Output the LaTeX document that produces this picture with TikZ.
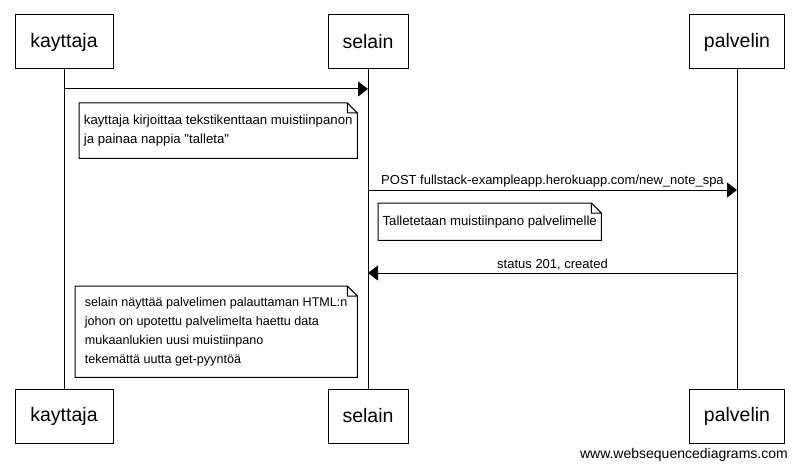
\documentclass[tikz,border=0pt]{standalone}
\usepackage{fontspec}
\setmainfont{Liberation Sans}
\usetikzlibrary{arrows.meta}

\tikzset{
  actor/.style={draw, line width=1pt, minimum width=#1, minimum height=54pt, font=\fontsize{19.5}{23}\selectfont},
  actor/.default=96pt,
  msg/.style={line width=1pt, -{Triangle[length=10pt,width=15pt]}},
  lbl/.style={font=\fontsize{13}{15}\selectfont, inner sep=2pt},
  note/.style={anchor=north west, align=left, inner sep=0pt, font=\fontsize{13.2}{19.5}\selectfont,
    append after command={\pgfextra{
      \draw [line width=1pt]
      (\tikzlastnode.north west) -- ([xshift=-10pt]\tikzlastnode.north east)
      -- ([yshift=-10pt]\tikzlastnode.north east)
      -- (\tikzlastnode.south east) -- (\tikzlastnode.south west) -- cycle
      ([xshift=-10pt]\tikzlastnode.north east) -- ([xshift=-10pt,yshift=-10pt]\tikzlastnode.north east)
      -- ([yshift=-10pt]\tikzlastnode.north east);
    }}}
}

\begin{document}
\begin{tikzpicture}[x=1pt, y=-1pt]
  \useasboundingbox (0,0) rectangle (798,468);

  % participants
  \draw (64, 42) node [actor=98pt] (k1) {kayttaja};
  \draw (368, 42) node [actor=80pt] (s1) {selain};
  \draw (737, 42) node [actor=95pt] (p1) {palvelin};
  \draw (64, 416) node [actor=98pt] (k2) {kayttaja};
  \draw (368, 416) node [actor=80pt] (s2) {selain};
  \draw (737, 416) node [actor=95pt] (p2) {palvelin};

  % lifelines
  \draw [line width=1pt] (k1) -- (k2);
  \draw [line width=1pt] (s1) -- (s2);
  \draw [line width=1pt] (p1) -- (p2);

  % message points
  \coordinate (m1a) at (64, 89);
  \coordinate (m1b) at (368, 89);
  \coordinate (m2a) at (368, 190);
  \coordinate (m2b) at (737, 190);
  \coordinate (m3a) at (737, 273);
  \coordinate (m3b) at (368, 273);

  \path [msg] (m1a) edge (m1b);
  \path [msg] (m2a) edge node [lbl, above] {POST fullstack-exampleapp.herokuapp.com/new\_note\_spa} (m2b);
  \path [msg] (m3a) edge node [lbl, above] {status 201, created} (m3b);

  % notes
  \node [note, minimum width=278pt, minimum height=55pt] (n1) at (79, 103)
    {kayttaja kirjoittaa tekstikenttaan muistiinpanon\\ja painaa nappia \textquotedbl talleta\textquotedbl};
  \node [note, minimum width=223pt, minimum height=37pt] (n2) at (378, 203)
    {Talletetaan muistiinpano palvelimelle};
  \node [note, minimum width=282pt, minimum height=91pt, font=\fontsize{12.6}{19}\selectfont] (n3) at (75, 286)
    {selain näyttää palvelimen palauttaman HTML:n\\johon on upotettu palvelimelta haettu data\\mukaanlukien uusi muistiinpano\\tekemättä uutta get-pyyntöä};

  \node [lbl, anchor=east, font=\fontsize{14}{16}\selectfont] (wsd) at (790, 455) {www.websequencediagrams.com};
\end{tikzpicture}
\end{document}
